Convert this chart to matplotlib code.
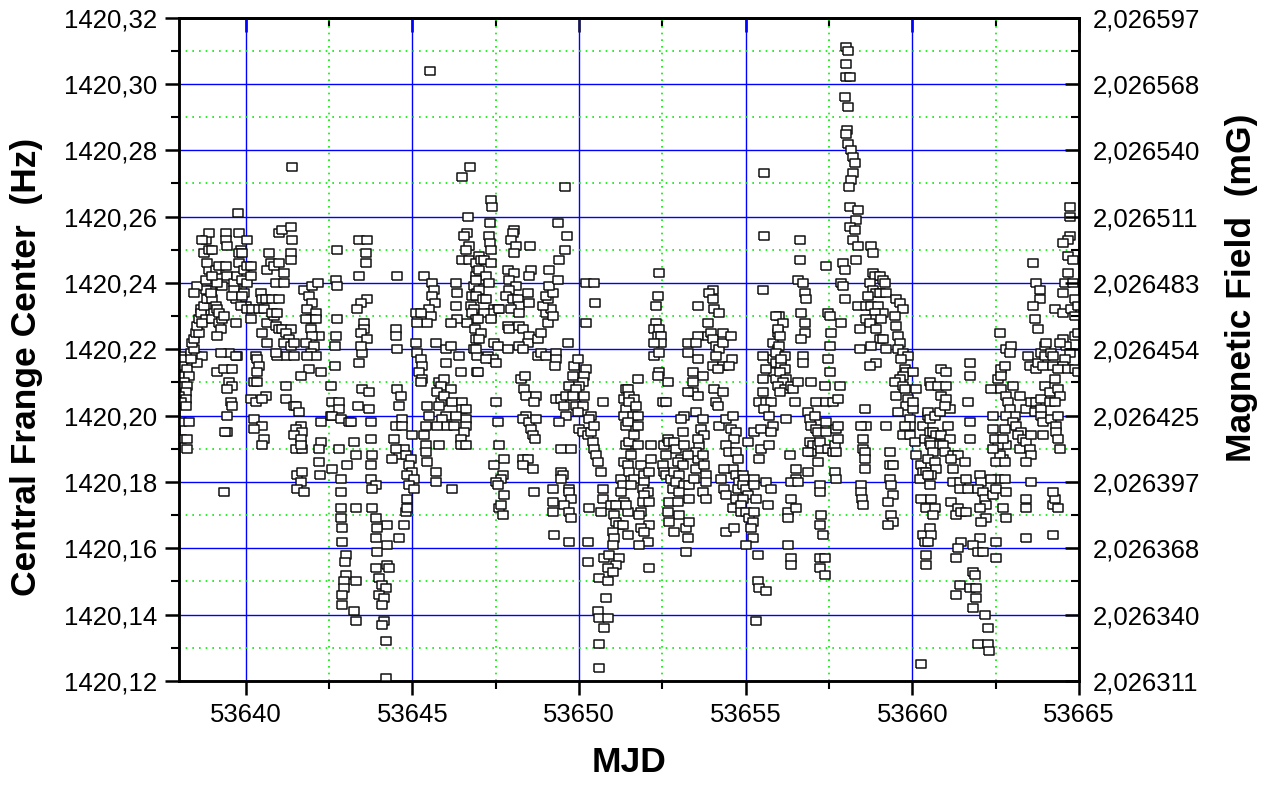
import matplotlib
matplotlib.use('Agg')
import matplotlib.pyplot as plt
from matplotlib.ticker import MultipleLocator, FuncFormatter, FixedLocator

plt.rcParams['font.family'] = ['Liberation Sans', 'DejaVu Sans']

# data, one block per ~4.5 days
mjd_1 = [53638.05, 53638.15, 53638.10, 53638.25, 53638.00, 53638.30, 53638.15, 53638.05, 53638.25, 53638.20,
         53638.00, 53638.20, 53638.05, 53638.20, 53638.05, 53638.30, 53638.05, 53638.25, 53638.25, 53638.40,
         53638.35, 53638.50, 53638.70, 53638.55, 53638.35, 53638.45, 53638.40, 53638.45, 53638.50, 53638.60,
         53638.55, 53638.60, 53638.65, 53638.65, 53638.75, 53638.80, 53638.70, 53638.90, 53638.85, 53639.00,
         53638.95, 53638.80, 53639.10, 53639.05, 53639.15, 53639.00, 53639.20, 53639.30, 53639.25, 53639.15,
         53638.55, 53638.45, 53638.80, 53638.90, 53638.85, 53638.75, 53638.90, 53639.00, 53638.80, 53638.90,
         53638.70, 53639.10, 53639.20, 53639.40, 53639.45, 53639.30, 53639.15, 53639.00, 53638.95, 53639.20,
         53639.35, 53639.40, 53639.40, 53639.45, 53639.70, 53639.65, 53639.75, 53639.65, 53639.70, 53639.60,
         53639.70, 53639.80, 53640.05, 53639.85, 53639.80, 53639.80, 53639.90, 53639.95, 53639.90, 53640.05,
         53640.05, 53640.15, 53640.15, 53639.95, 53639.90, 53640.00, 53639.85, 53640.05, 53640.20, 53640.15,
         53640.45, 53640.50, 53640.40, 53640.55, 53640.65, 53640.85, 53640.80, 53640.90, 53641.00, 53641.10,
         53641.35, 53641.20, 53641.30, 53641.15, 53641.35, 53641.45, 53641.20, 53641.45, 53640.70, 53640.75,
         53640.65, 53640.85, 53641.00, 53640.90, 53641.15, 53641.15, 53641.00, 53641.10, 53641.35, 53641.40,
         53641.35, 53641.35, 53640.60, 53640.80, 53641.00, 53640.95, 53640.50, 53640.65, 53640.95, 53640.90,
         53639.75, 53639.50, 53639.25, 53639.70, 53639.15, 53639.35, 53639.60, 53639.50, 53639.60, 53639.45,
         53639.55, 53639.60, 53639.45, 53639.45, 53639.38, 53640.30, 53640.35, 53640.40, 53640.35, 53640.25,
         53640.35, 53640.15, 53640.30, 53640.60, 53640.50, 53640.25, 53640.50, 53640.25, 53640.55, 53640.50,
         53639.35, 53641.20, 53641.20, 53641.45, 53641.50, 53641.60, 53641.65, 53641.50, 53641.70, 53641.45,
         53641.65, 53641.50, 53641.70, 53641.65, 53641.55, 53641.70, 53641.65, 53641.55, 53641.75, 53641.75,
         53642.00, 53642.18, 53641.90, 53642.00, 53641.85, 53642.10, 53641.95, 53641.80, 53642.10, 53641.95,
         53642.20, 53642.00, 53641.80, 53642.05, 53641.95, 53642.10, 53641.85, 53641.90, 53641.65, 53642.25,
         53642.25, 53642.25, 53642.20, 53642.20, 53642.22, 53641.38, 53639.77, 53642.55, 53642.55]
freq_1 = [1420.218, 1420.217, 1420.215, 1420.214, 1420.212, 1420.212, 1420.210, 1420.209, 1420.209, 1420.207,
          1420.206, 1420.205, 1420.204, 1420.203, 1420.198, 1420.198, 1420.193, 1420.193, 1420.190, 1420.218,
          1420.219, 1420.218, 1420.218, 1420.216, 1420.217, 1420.220, 1420.222, 1420.223, 1420.225, 1420.225,
          1420.227, 1420.229, 1420.232, 1420.231, 1420.233, 1420.229, 1420.228, 1420.235, 1420.235, 1420.235,
          1420.238, 1420.238, 1420.233, 1420.231, 1420.232, 1420.229, 1420.228, 1420.229, 1420.226, 1420.224,
          1420.239, 1420.237, 1420.241, 1420.244, 1420.246, 1420.249, 1420.250, 1420.250, 1420.253, 1420.255,
          1420.253, 1420.244, 1420.245, 1420.245, 1420.242, 1420.239, 1420.240, 1420.242, 1420.237, 1420.231,
          1420.230, 1420.255, 1420.253, 1420.251, 1420.239, 1420.240, 1420.242, 1420.238, 1420.235, 1420.236,
          1420.228, 1420.255, 1420.253, 1420.250, 1420.246, 1420.249, 1420.249, 1420.244, 1420.241, 1420.240,
          1420.245, 1420.245, 1420.242, 1420.237, 1420.236, 1420.233, 1420.233, 1420.232, 1420.232, 1420.229,
          1420.237, 1420.235, 1420.232, 1420.232, 1420.228, 1420.230, 1420.231, 1420.227, 1420.226, 1420.226,
          1420.226, 1420.225, 1420.223, 1420.222, 1420.221, 1420.222, 1420.218, 1420.218, 1420.249, 1420.246,
          1420.244, 1420.245, 1420.246, 1420.240, 1420.243, 1420.240, 1420.255, 1420.256, 1420.257, 1420.253,
          1420.249, 1420.247, 1420.235, 1420.235, 1420.235, 1420.231, 1420.225, 1420.222, 1420.218, 1420.219,
          1420.218, 1420.219, 1420.219, 1420.218, 1420.213, 1420.214, 1420.214, 1420.210, 1420.209, 1420.208,
          1420.204, 1420.203, 1420.200, 1420.195, 1420.195, 1420.218, 1420.217, 1420.215, 1420.213, 1420.210,
          1420.210, 1420.205, 1420.204, 1420.206, 1420.205, 1420.199, 1420.197, 1420.196, 1420.193, 1420.191,
          1420.177, 1420.209, 1420.205, 1420.203, 1420.203, 1420.201, 1420.197, 1420.196, 1420.195, 1420.194,
          1420.193, 1420.190, 1420.190, 1420.191, 1420.182, 1420.183, 1420.180, 1420.178, 1420.177, 1420.238,
          1420.239, 1420.240, 1420.236, 1420.234, 1420.232, 1420.231, 1420.229, 1420.229, 1420.229, 1420.226,
          1420.224, 1420.224, 1420.222, 1420.221, 1420.219, 1420.218, 1420.218, 1420.214, 1420.212, 1420.213,
          1420.198, 1420.192, 1420.190, 1420.186, 1420.182, 1420.275, 1420.261, 1420.209, 1420.200]

mjd_2 = [53645.53, 53646.73, 53646.50, 53646.67, 53646.65, 53646.55, 53646.70, 53646.60, 53646.50, 53646.70,
         53647.00, 53646.95, 53646.90, 53647.00, 53646.85, 53646.95, 53646.80, 53646.75, 53646.85, 53646.80,
         53646.90, 53646.65, 53646.88, 53646.90, 53646.85, 53646.95, 53646.95, 53642.75, 53643.40, 53643.65,
         53643.60, 53643.60, 53642.70, 53642.75, 53643.40, 53644.53, 53645.35, 53645.60, 53645.65, 53645.60,
         53645.68, 53645.50, 53645.55, 53645.45, 53645.10, 53645.25, 53645.15, 53646.30, 53646.35, 53646.30,
         53646.35, 53646.15, 53643.65, 53643.45, 53643.35, 53643.55, 53643.55, 53643.45, 53643.65, 53643.50,
         53643.45, 53642.75, 53642.70, 53642.68, 53642.68, 53643.40, 53644.50, 53644.52, 53644.55, 53645.10,
         53645.15, 53645.25, 53645.30, 53645.20, 53645.30, 53645.25, 53645.70, 53646.00, 53646.15, 53646.00,
         53646.40, 53646.45, 53643.50, 53643.70, 53642.60, 53642.80, 53642.80, 53642.60, 53642.85, 53643.10,
         53643.15, 53643.38, 53643.70, 53643.75, 53644.55, 53644.65, 53644.60, 53644.70, 53644.50, 53644.70,
         53644.45, 53645.00, 53644.75, 53644.60, 53644.40, 53644.50, 53644.80, 53644.95, 53644.90, 53645.00,
         53644.85, 53645.05, 53644.90, 53645.05, 53643.25, 53642.80, 53643.75, 53643.30, 53643.80, 53643.75,
         53642.60, 53643.05, 53642.85, 53642.85, 53643.75, 53643.90, 53643.80, 53642.85, 53642.85, 53643.30,
         53643.80, 53643.90, 53644.25, 53644.75, 53644.85, 53644.80, 53644.85, 53642.90, 53643.95, 53643.90,
         53644.60, 53644.25, 53642.90, 53643.95, 53643.00, 53642.98, 53643.00, 53643.30, 53642.95, 53642.95,
         53642.90, 53642.90, 53643.25, 53643.30, 53643.90, 53644.25, 53644.30, 53644.00, 53644.10, 53644.20,
         53644.00, 53644.15, 53644.10, 53644.15, 53644.10, 53644.20, 53644.20, 53645.45, 53645.50, 53645.40,
         53645.35, 53645.40, 53645.40, 53645.45, 53645.70, 53645.70, 53645.80, 53646.20, 53645.80, 53645.95,
         53645.85, 53645.75, 53646.15, 53645.85, 53645.80, 53645.95, 53646.00, 53646.20, 53646.50, 53645.90,
         53646.05, 53646.25, 53646.50, 53646.60, 53646.60, 53646.55, 53646.45, 53646.45, 53646.60, 53646.60,
         53646.30, 53645.75]
freq_2 = [1420.304, 1420.275, 1420.272, 1420.260, 1420.255, 1420.254, 1420.251, 1420.250, 1420.247, 1420.247,
          1420.248, 1420.244, 1420.242, 1420.241, 1420.239, 1420.237, 1420.236, 1420.233, 1420.232, 1420.231,
          1420.229, 1420.228, 1420.226, 1420.223, 1420.220, 1420.218, 1420.213, 1420.250, 1420.253, 1420.253,
          1420.249, 1420.246, 1420.241, 1420.239, 1420.242, 1420.242, 1420.242, 1420.240, 1420.238, 1420.236,
          1420.234, 1420.232, 1420.230, 1420.228, 1420.231, 1420.231, 1420.228, 1420.240, 1420.237, 1420.233,
          1420.229, 1420.228, 1420.235, 1420.234, 1420.232, 1420.228, 1420.226, 1420.225, 1420.223, 1420.219,
          1420.221, 1420.229, 1420.224, 1420.221, 1420.215, 1420.216, 1420.226, 1420.224, 1420.220, 1420.222,
          1420.219, 1420.217, 1420.215, 1420.213, 1420.211, 1420.210, 1420.222, 1420.220, 1420.221, 1420.216,
          1420.218, 1420.213, 1420.208, 1420.207, 1420.204, 1420.204, 1420.202, 1420.200, 1420.199, 1420.198,
          1420.198, 1420.203, 1420.202, 1420.198, 1420.208, 1420.206, 1420.203, 1420.199, 1420.197, 1420.197,
          1420.193, 1420.194, 1420.190, 1420.188, 1420.187, 1420.190, 1420.188, 1420.187, 1420.185, 1420.183,
          1420.182, 1420.181, 1420.179, 1420.178, 1420.192, 1420.190, 1420.193, 1420.188, 1420.188, 1420.185,
          1420.184, 1420.185, 1420.181, 1420.177, 1420.181, 1420.179, 1420.178, 1420.172, 1420.169, 1420.172,
          1420.172, 1420.169, 1420.167, 1420.167, 1420.175, 1420.171, 1420.172, 1420.166, 1420.166, 1420.163,
          1420.163, 1420.161, 1420.162, 1420.159, 1420.158, 1420.156, 1420.152, 1420.150, 1420.150, 1420.148,
          1420.146, 1420.143, 1420.141, 1420.138, 1420.154, 1420.155, 1420.154, 1420.151, 1420.149, 1420.148,
          1420.146, 1420.145, 1420.143, 1420.138, 1420.137, 1420.132, 1420.121, 1420.203, 1420.200, 1420.197,
          1420.194, 1420.191, 1420.189, 1420.186, 1420.183, 1420.180, 1420.191, 1420.178, 1420.210, 1420.211,
          1420.209, 1420.207, 1420.208, 1420.204, 1420.203, 1420.206, 1420.200, 1420.204, 1420.204, 1420.199,
          1420.197, 1420.197, 1420.202, 1420.199, 1420.197, 1420.195, 1420.193, 1420.191, 1420.191, 1420.202,
          1420.200, 1420.197]

mjd_3 = [53646.91, 53647.06, 53647.16, 53647.36, 53647.01, 53647.21, 53646.91, 53647.31, 53647.01, 53646.91,
         53647.11, 53647.21, 53647.46, 53647.56, 53647.36, 53647.16, 53646.96, 53647.36, 53647.06, 53647.01,
         53646.91, 53647.26, 53647.41, 53647.21, 53647.51, 53646.96, 53647.46, 53647.56, 53647.36, 53647.39,
         53647.33, 53647.29, 53647.33, 53647.36, 53648.06, 53648.03, 53647.96, 53648.11, 53648.06, 53648.54,
         53648.56, 53648.51, 53647.86, 53648.06, 53647.91, 53648.11, 53647.91, 53647.81, 53648.01, 53648.16,
         53648.21, 53647.96, 53648.21, 53648.51, 53648.46, 53647.61, 53647.86, 53647.91, 53648.21, 53648.31,
         53648.51, 53648.46, 53648.21, 53648.31, 53647.86, 53648.76, 53648.86, 53649.01, 53648.76, 53648.86,
         53649.06, 53649.01, 53649.16, 53649.21, 53648.91, 53649.06, 53649.01, 53649.21, 53649.11, 53649.11,
         53649.36, 53649.39, 53649.59, 53649.63, 53649.36, 53649.59, 53649.66, 53649.31, 53649.31, 53649.29,
         53648.26, 53648.39, 53648.36, 53648.41, 53648.71, 53648.66, 53647.51, 53648.41, 53648.31, 53648.51,
         53648.71, 53648.56, 53648.61, 53648.69, 53647.56, 53647.61, 53647.46, 53647.76, 53647.71, 53647.66,
         53647.51, 53647.56, 53647.76, 53647.61, 53647.66, 53647.71, 53648.31, 53648.46, 53648.31, 53648.61,
         53648.66, 53649.31, 53649.46, 53649.61, 53649.56, 53649.61, 53649.41, 53649.71, 53649.81, 53649.86,
         53649.96, 53650.21, 53650.16, 53650.11, 53650.01, 53649.91, 53649.81, 53650.16, 53649.91, 53650.11,
         53649.96, 53650.36, 53650.31, 53650.01, 53650.11, 53650.26, 53650.36, 53650.46, 53650.41, 53650.46,
         53650.51, 53650.56, 53650.66, 53650.21, 53650.46, 53650.48, 53650.21, 53650.71, 53649.46, 53649.76,
         53649.46, 53649.53, 53649.21, 53649.46, 53649.71, 53649.71, 53649.76, 53649.56, 53649.23, 53649.21,
         53649.71, 53649.76, 53649.26, 53649.69, 53650.31, 53650.26, 53650.71, 53650.71, 53650.66, 53651.41,
         53651.36, 53651.41, 53651.36, 53651.41, 53651.36, 53651.26, 53651.31, 53651.26, 53651.36, 53650.96,
         53651.11, 53651.06, 53651.11, 53651.21, 53651.31, 53651.01, 53651.06, 53651.01, 53650.76, 53650.91,
         53651.21, 53651.11, 53650.86, 53651.01, 53650.61, 53650.86, 53650.81, 53650.56, 53650.61, 53650.86,
         53650.76, 53650.59, 53650.61, 53650.26, 53651.46, 53651.56]
freq_3 = [1420.246, 1420.247, 1420.247, 1420.246, 1420.244, 1420.242, 1420.241, 1420.240, 1420.238, 1420.236,
          1420.235, 1420.235, 1420.232, 1420.232, 1420.231, 1420.231, 1420.229, 1420.229, 1420.225, 1420.223,
          1420.220, 1420.218, 1420.217, 1420.217, 1420.216, 1420.213, 1420.222, 1420.221, 1420.265, 1420.263,
          1420.258, 1420.254, 1420.252, 1420.250, 1420.256, 1420.255, 1420.253, 1420.251, 1420.249, 1420.251,
          1420.244, 1420.242, 1420.244, 1420.243, 1420.241, 1420.239, 1420.238, 1420.236, 1420.235, 1420.235,
          1420.233, 1420.232, 1420.231, 1420.234, 1420.237, 1420.232, 1420.227, 1420.226, 1420.227, 1420.226,
          1420.224, 1420.222, 1420.221, 1420.220, 1420.220, 1420.218, 1420.219, 1420.218, 1420.223, 1420.225,
          1420.228, 1420.231, 1420.232, 1420.230, 1420.233, 1420.235, 1420.236, 1420.237, 1420.239, 1420.244,
          1420.241, 1420.247, 1420.250, 1420.254, 1420.258, 1420.269, 1420.222, 1420.219, 1420.217, 1420.215,
          1420.211, 1420.212, 1420.208, 1420.206, 1420.206, 1420.204, 1420.204, 1420.200, 1420.199, 1420.198,
          1420.199, 1420.196, 1420.194, 1420.193, 1420.198, 1420.191, 1420.185, 1420.187, 1420.182, 1420.181,
          1420.180, 1420.179, 1420.176, 1420.172, 1420.173, 1420.170, 1420.187, 1420.187, 1420.185, 1420.184,
          1420.177, 1420.205, 1420.205, 1420.206, 1420.203, 1420.200, 1420.198, 1420.209, 1420.212, 1420.215,
          1420.217, 1420.214, 1420.212, 1420.210, 1420.209, 1420.208, 1420.206, 1420.206, 1420.203, 1420.203,
          1420.201, 1420.200, 1420.199, 1420.196, 1420.195, 1420.194, 1420.195, 1420.197, 1420.192, 1420.190,
          1420.188, 1420.186, 1420.183, 1420.240, 1420.240, 1420.234, 1420.228, 1420.204, 1420.190, 1420.190,
          1420.183, 1420.182, 1420.178, 1420.181, 1420.178, 1420.177, 1420.175, 1420.173, 1420.174, 1420.171,
          1420.171, 1420.169, 1420.164, 1420.162, 1420.172, 1420.162, 1420.178, 1420.175, 1420.171, 1420.208,
          1420.205, 1420.202, 1420.200, 1420.197, 1420.186, 1420.181, 1420.179, 1420.177, 1420.174, 1420.173,
          1420.173, 1420.170, 1420.168, 1420.167, 1420.167, 1420.165, 1420.163, 1420.161, 1420.157, 1420.158,
          1420.157, 1420.155, 1420.154, 1420.153, 1420.151, 1420.150, 1420.145, 1420.141, 1420.139, 1420.139,
          1420.136, 1420.131, 1420.124, 1420.156, 1420.171, 1420.191]

mjd_4 = [53651.46, 53651.51, 53651.66, 53651.51, 53651.71, 53651.61, 53651.76, 53651.46, 53651.76, 53651.41,
         53651.51, 53651.76, 53651.56, 53651.86, 53651.46, 53651.51, 53651.66, 53651.56, 53651.96, 53652.11,
         53652.16, 53652.16, 53651.96, 53651.91, 53652.06, 53651.96, 53651.91, 53652.11, 53651.86, 53651.81,
         53652.11, 53651.86, 53651.96, 53652.06, 53651.81, 53651.41, 53651.46, 53652.11, 53651.76, 53651.66,
         53652.41, 53652.36, 53652.31, 53652.31, 53652.26, 53652.41, 53652.36, 53652.46, 53652.46, 53652.26,
         53652.26, 53652.41, 53652.41, 53652.66, 53652.36, 53652.51, 53652.61, 53652.56, 53652.66, 53652.71,
         53652.61, 53652.51, 53652.56, 53652.61, 53652.76, 53652.81, 53652.71, 53652.66, 53653.01, 53652.71,
         53652.86, 53653.21, 53653.26, 53653.21, 53653.31, 53652.86, 53652.91, 53653.06, 53652.96, 53653.11,
         53652.86, 53653.01, 53652.91, 53653.16, 53653.01, 53652.96, 53653.31, 53653.31, 53653.46, 53653.51,
         53653.56, 53653.61, 53653.51, 53653.71, 53653.76, 53653.81, 53653.81, 53653.71, 53653.81, 53653.16,
         53653.26, 53653.11, 53653.16, 53653.06, 53653.51, 53653.71, 53653.66, 53653.76, 53653.56, 53653.26,
         53653.26, 53653.56, 53653.51, 53653.56, 53653.41, 53653.71, 53653.41, 53653.41, 53653.56, 53653.26,
         53654.06, 53654.31, 53654.11, 53654.16, 53653.56, 53654.01, 53653.91, 53654.01, 53654.06, 53654.21,
         53653.86, 53653.86, 53653.96, 53654.01, 53654.11, 53654.21, 53654.11, 53654.01, 53654.31, 53654.31,
         53654.31, 53654.56, 53654.59, 53654.51, 53654.16, 53654.21, 53654.41, 53654.61, 53654.56, 53654.71,
         53654.66, 53654.41, 53654.51, 53654.71, 53654.76, 53654.61, 53654.36, 53654.26, 53654.36, 53654.41,
         53654.71, 53654.81, 53654.76, 53654.71, 53654.61, 53654.91, 53654.96, 53654.91, 53655.01, 53655.06,
         53654.91, 53654.86, 53654.86, 53655.01, 53655.11, 53655.21, 53655.16, 53655.21, 53655.01, 53655.26,
         53655.26, 53655.31, 53655.26, 53655.36, 53655.36, 53655.41, 53655.61, 53655.31, 53654.41, 53654.66,
         53655.06, 53655.26, 53655.46, 53655.41, 53655.46, 53655.71, 53655.61, 53655.76, 53655.66, 53655.56,
         53655.56, 53655.51, 53656.01, 53655.96, 53655.81, 53655.96, 53655.81, 53655.91, 53656.06, 53655.86,
         53655.91, 53655.51, 53655.61, 53655.51, 53655.51, 53655.41, 53655.61, 53655.76, 53655.56, 53655.71,
         53655.81, 53655.76, 53656.01]
freq_4 = [1420.208, 1420.206, 1420.205, 1420.204, 1420.203, 1420.200, 1420.200, 1420.198, 1420.197, 1420.191,
          1420.192, 1420.191, 1420.188, 1420.185, 1420.185, 1420.183, 1420.181, 1420.179, 1420.182, 1420.183,
          1420.187, 1420.191, 1420.180, 1420.178, 1420.177, 1420.176, 1420.174, 1420.174, 1420.171, 1420.170,
          1420.167, 1420.166, 1420.165, 1420.162, 1420.161, 1420.173, 1420.164, 1420.154, 1420.211, 1420.194,
          1420.243, 1420.236, 1420.233, 1420.228, 1420.226, 1420.226, 1420.224, 1420.224, 1420.222, 1420.222,
          1420.218, 1420.219, 1420.213, 1420.210, 1420.212, 1420.204, 1420.204, 1420.191, 1420.193, 1420.192,
          1420.188, 1420.185, 1420.183, 1420.182, 1420.181, 1420.178, 1420.174, 1420.171, 1420.170, 1420.168,
          1420.165, 1420.166, 1420.163, 1420.159, 1420.168, 1420.192, 1420.190, 1420.187, 1420.186, 1420.185,
          1420.183, 1420.182, 1420.180, 1420.179, 1420.177, 1420.174, 1420.179, 1420.175, 1420.181, 1420.184,
          1420.187, 1420.191, 1420.189, 1420.188, 1420.185, 1420.182, 1420.180, 1420.177, 1420.175, 1420.191,
          1420.188, 1420.195, 1420.200, 1420.199, 1420.201, 1420.199, 1420.196, 1420.194, 1420.193, 1420.222,
          1420.219, 1420.224, 1420.222, 1420.217, 1420.213, 1420.212, 1420.210, 1420.207, 1420.206, 1420.207,
          1420.208, 1420.207, 1420.204, 1420.203, 1420.233, 1420.238, 1420.237, 1420.235, 1420.232, 1420.231,
          1420.228, 1420.224, 1420.225, 1420.223, 1420.221, 1420.220, 1420.218, 1420.215, 1420.215, 1420.225,
          1420.222, 1420.224, 1420.217, 1420.215, 1420.214, 1420.197, 1420.199, 1420.200, 1420.196, 1420.195,
          1420.193, 1420.191, 1420.189, 1420.189, 1420.187, 1420.184, 1420.184, 1420.181, 1420.178, 1420.176,
          1420.182, 1420.180, 1420.178, 1420.175, 1420.172, 1420.182, 1420.181, 1420.179, 1420.178, 1420.176,
          1420.175, 1420.173, 1420.171, 1420.171, 1420.169, 1420.168, 1420.166, 1420.163, 1420.161, 1420.181,
          1420.179, 1420.175, 1420.171, 1420.158, 1420.150, 1420.148, 1420.147, 1420.138, 1420.165, 1420.166,
          1420.192, 1420.195, 1420.190, 1420.187, 1420.196, 1420.191, 1420.180, 1420.178, 1420.173, 1420.273,
          1420.254, 1420.238, 1420.230, 1420.225, 1420.222, 1420.220, 1420.217, 1420.216, 1420.215, 1420.213,
          1420.211, 1420.218, 1420.214, 1420.211, 1420.207, 1420.204, 1420.204, 1420.204, 1420.202, 1420.200,
          1420.197, 1420.195, 1420.221]

mjd_5 = [53655.92, 53656.12, 53655.97, 53656.02, 53655.92, 53656.17, 53656.07, 53656.17, 53656.02, 53656.22,
         53656.12, 53655.97, 53656.17, 53656.37, 53656.02, 53656.42, 53656.57, 53656.47, 53656.22, 53656.62,
         53656.64, 53656.57, 53656.72, 53656.77, 53656.82, 53656.67, 53656.77, 53656.77, 53656.67, 53656.72,
         53656.72, 53656.97, 53657.12, 53656.87, 53656.92, 53656.97, 53657.07, 53657.12, 53657.17, 53656.92,
         53657.02, 53656.97, 53657.17, 53656.87, 53657.17, 53657.27, 53657.22, 53656.87, 53656.52, 53656.52,
         53656.37, 53656.57, 53656.32, 53656.37, 53656.27, 53656.52, 53656.27, 53656.27, 53656.37, 53656.37,
         53657.22, 53657.22, 53657.27, 53657.22, 53657.32, 53657.22, 53657.37, 53657.22, 53657.37, 53657.40,
         53657.47, 53657.52, 53657.57, 53657.87, 53657.52, 53657.47, 53657.52, 53657.37, 53657.42, 53657.62,
         53657.77, 53657.82, 53657.42, 53657.42, 53657.47, 53657.62, 53657.67, 53657.72, 53657.77, 53657.72,
         53657.77, 53657.67, 53657.72, 53657.92, 53657.97, 53657.87, 53657.92, 53657.97, 53658.02, 53658.07,
         53658.02, 53658.02, 53658.14, 53657.97, 53658.07, 53658.04, 53658.02, 53658.07, 53658.17, 53658.22,
         53658.27, 53658.22, 53658.17, 53658.10, 53658.12, 53658.37, 53658.32, 53658.12, 53658.27, 53658.22,
         53658.37, 53658.32, 53658.37, 53658.42, 53658.42, 53658.77, 53658.82, 53658.82, 53658.87, 53659.02,
         53659.12, 53659.17, 53658.72, 53658.82, 53658.92, 53659.02, 53659.22, 53658.67, 53658.62, 53658.77,
         53658.97, 53659.12, 53658.87, 53658.82, 53658.62, 53658.72, 53659.07, 53658.92, 53659.02, 53659.12,
         53658.77, 53658.92, 53658.72, 53659.22, 53659.52, 53659.62, 53659.72, 53659.47, 53659.52, 53659.57,
         53659.62, 53659.57, 53659.72, 53659.87, 53659.67, 53659.77, 53659.82, 53660.02, 53659.72, 53659.62,
         53659.47, 53659.52, 53659.72, 53659.77, 53659.87, 53659.82, 53659.57, 53660.02, 53660.12, 53660.02,
         53659.92, 53659.92, 53659.77, 53659.72, 53659.92, 53660.07, 53660.12, 53660.27, 53660.32, 53660.42,
         53660.22, 53660.27, 53660.42, 53660.32, 53660.37, 53660.42, 53660.27, 53660.32, 53660.37, 53660.47,
         53660.52, 53660.52, 53658.57, 53658.62, 53658.47, 53658.52, 53658.52, 53658.57, 53658.57, 53659.22,
         53659.32, 53659.32, 53659.42, 53659.32, 53659.37, 53659.42, 53659.27, 53659.37, 53659.42, 53659.27,
         53658.57, 53658.47, 53658.47, 53658.50, 53658.52]
freq_5 = [1420.230, 1420.228, 1420.226, 1420.224, 1420.219, 1420.218, 1420.217, 1420.214, 1420.213, 1420.211,
          1420.210, 1420.209, 1420.208, 1420.209, 1420.207, 1420.208, 1420.210, 1420.204, 1420.199, 1420.253,
          1420.247, 1420.241, 1420.240, 1420.237, 1420.235, 1420.231, 1420.228, 1420.225, 1420.223, 1420.218,
          1420.216, 1420.210, 1420.204, 1420.201, 1420.199, 1420.197, 1420.200, 1420.196, 1420.195, 1420.192,
          1420.191, 1420.189, 1420.191, 1420.189, 1420.186, 1420.190, 1420.192, 1420.183, 1420.184, 1420.181,
          1420.180, 1420.180, 1420.188, 1420.175, 1420.171, 1420.172, 1420.169, 1420.161, 1420.157, 1420.155,
          1420.179, 1420.177, 1420.170, 1420.167, 1420.164, 1420.157, 1420.157, 1420.154, 1420.152, 1420.245,
          1420.231, 1420.230, 1420.225, 1420.228, 1420.221, 1420.217, 1420.213, 1420.209, 1420.204, 1420.204,
          1420.205, 1420.209, 1420.198, 1420.195, 1420.190, 1420.189, 1420.191, 1420.189, 1420.193, 1420.196,
          1420.197, 1420.183, 1420.181, 1420.246, 1420.244, 1420.240, 1420.239, 1420.235, 1420.311, 1420.310,
          1420.306, 1420.302, 1420.302, 1420.296, 1420.293, 1420.286, 1420.285, 1420.282, 1420.280, 1420.278,
          1420.276, 1420.273, 1420.271, 1420.269, 1420.263, 1420.262, 1420.259, 1420.257, 1420.256, 1420.253,
          1420.251, 1420.247, 1420.233, 1420.226, 1420.220, 1420.251, 1420.249, 1420.243, 1420.242, 1420.242,
          1420.241, 1420.240, 1420.240, 1420.238, 1420.237, 1420.237, 1420.237, 1420.236, 1420.233, 1420.233,
          1420.233, 1420.231, 1420.231, 1420.229, 1420.229, 1420.228, 1420.229, 1420.226, 1420.223, 1420.223,
          1420.221, 1420.216, 1420.215, 1420.220, 1420.235, 1420.234, 1420.232, 1420.230, 1420.227, 1420.224,
          1420.222, 1420.220, 1420.219, 1420.218, 1420.217, 1420.214, 1420.213, 1420.213, 1420.212, 1420.211,
          1420.210, 1420.206, 1420.209, 1420.208, 1420.205, 1420.203, 1420.201, 1420.202, 1420.208, 1420.204,
          1420.199, 1420.197, 1420.197, 1420.194, 1420.194, 1420.192, 1420.188, 1420.185, 1420.183, 1420.183,
          1420.181, 1420.175, 1420.172, 1420.164, 1420.162, 1420.155, 1420.125, 1420.197, 1420.193, 1420.200,
          1420.210, 1420.195, 1420.202, 1420.197, 1420.197, 1420.193, 1420.190, 1420.189, 1420.187, 1420.197,
          1420.189, 1420.185, 1420.185, 1420.181, 1420.179, 1420.176, 1420.174, 1420.170, 1420.168, 1420.167,
          1420.184, 1420.179, 1420.177, 1420.175, 1420.173]

mjd_6 = [53660.47, 53660.52, 53660.67, 53660.62, 53660.72, 53660.52, 53660.57, 53660.82, 53660.62, 53660.47,
         53660.67, 53660.72, 53660.57, 53660.47, 53660.52, 53660.57, 53660.67, 53660.62, 53660.52, 53660.57,
         53660.47, 53660.42, 53660.57, 53660.77, 53661.02, 53660.87, 53661.02, 53661.12, 53660.82, 53660.97,
         53661.07, 53660.87, 53661.12, 53660.92, 53660.97, 53661.22, 53661.37, 53661.17, 53661.57, 53661.22,
         53661.22, 53661.42, 53661.42, 53661.62, 53661.67, 53661.17, 53661.37, 53661.32, 53661.47, 53661.62,
         53660.87, 53661.02, 53661.67, 53661.47, 53661.37, 53661.30, 53661.42, 53661.32, 53661.72, 53661.72,
         53661.72, 53661.72, 53662.02, 53662.07, 53661.97, 53662.12, 53662.17, 53662.22, 53662.02, 53662.22,
         53662.07, 53662.02, 53661.82, 53661.97, 53662.12, 53661.82, 53661.87, 53661.72, 53661.92, 53661.92,
         53661.82, 53662.17, 53662.27, 53661.97, 53662.27, 53662.29, 53662.52, 53662.52, 53662.42, 53662.52,
         53662.57, 53662.77, 53662.82, 53662.72, 53662.82, 53662.37, 53662.42, 53662.37, 53662.57, 53662.67,
         53662.67, 53662.77, 53662.82, 53662.97, 53662.92, 53662.62, 53662.67, 53662.82, 53662.87, 53663.02,
         53662.92, 53663.07, 53662.82, 53663.02, 53663.12, 53663.27, 53663.17, 53663.32, 53663.22, 53663.42,
         53663.57, 53663.52, 53663.57, 53663.42, 53662.82, 53662.72, 53662.62, 53662.52, 53662.77, 53662.57,
         53662.47, 53662.42, 53662.72, 53662.77, 53662.42, 53663.22, 53663.42, 53663.57, 53663.67, 53663.72,
         53663.87, 53663.87, 53663.87, 53664.12, 53663.92, 53664.17, 53663.92, 53663.42, 53663.42, 53663.57,
         53663.42, 53664.22, 53664.27, 53664.22, 53664.37, 53664.22, 53663.62, 53663.72, 53663.82, 53663.82,
         53663.62, 53663.67, 53663.77, 53663.47, 53663.52, 53663.72, 53663.77, 53663.87, 53663.97, 53663.97,
         53663.92, 53663.97, 53664.12, 53664.02, 53664.17, 53664.22, 53664.22, 53664.27, 53664.37, 53664.42,
         53664.27, 53664.37, 53664.32, 53664.32, 53664.37, 53664.42, 53664.74, 53664.74, 53664.72, 53664.67,
         53664.52, 53664.67, 53664.82, 53664.67, 53664.57, 53664.82, 53664.52, 53664.87, 53664.27, 53664.52,
         53664.77, 53664.97, 53664.87, 53664.52, 53664.62, 53664.42, 53664.87, 53664.97, 53664.72, 53664.57,
         53664.52, 53664.37, 53664.67, 53664.87, 53664.97]
freq_6 = [1420.201, 1420.199, 1420.200, 1420.195, 1420.194, 1420.192, 1420.191, 1420.191, 1420.189, 1420.187,
          1420.186, 1420.184, 1420.182, 1420.182, 1420.179, 1420.175, 1420.172, 1420.170, 1420.166, 1420.164,
          1420.162, 1420.158, 1420.209, 1420.209, 1420.209, 1420.206, 1420.205, 1420.202, 1420.201, 1420.203,
          1420.197, 1420.194, 1420.193, 1420.191, 1420.189, 1420.188, 1420.188, 1420.187, 1420.186, 1420.184,
          1420.180, 1420.180, 1420.178, 1420.181, 1420.178, 1420.174, 1420.172, 1420.170, 1420.171, 1420.171,
          1420.214, 1420.213, 1420.204, 1420.162, 1420.160, 1420.157, 1420.149, 1420.146, 1420.216, 1420.212,
          1420.198, 1420.193, 1420.182, 1420.180, 1420.178, 1420.177, 1420.175, 1420.173, 1420.172, 1420.169,
          1420.168, 1420.163, 1420.161, 1420.159, 1420.159, 1420.153, 1420.152, 1420.148, 1420.148, 1420.145,
          1420.142, 1420.140, 1420.136, 1420.131, 1420.131, 1420.129, 1420.157, 1420.162, 1420.176, 1420.178,
          1420.181, 1420.181, 1420.169, 1420.172, 1420.177, 1420.181, 1420.200, 1420.208, 1420.211, 1420.214,
          1420.212, 1420.215, 1420.220, 1420.221, 1420.219, 1420.225, 1420.208, 1420.206, 1420.204, 1420.209,
          1420.202, 1420.200, 1420.200, 1420.198, 1420.197, 1420.195, 1420.194, 1420.193, 1420.190, 1420.192,
          1420.194, 1420.190, 1420.188, 1420.186, 1420.191, 1420.187, 1420.188, 1420.186, 1420.186, 1420.191,
          1420.193, 1420.190, 1420.193, 1420.196, 1420.196, 1420.206, 1420.202, 1420.204, 1420.201, 1420.204,
          1420.205, 1420.202, 1420.200, 1420.204, 1420.198, 1420.199, 1420.194, 1420.175, 1420.172, 1420.180,
          1420.163, 1420.173, 1420.175, 1420.177, 1420.172, 1420.164, 1420.246, 1420.240, 1420.238, 1420.235,
          1420.233, 1420.229, 1420.226, 1420.218, 1420.215, 1420.214, 1420.216, 1420.219, 1420.221, 1420.218,
          1420.215, 1420.209, 1420.207, 1420.222, 1420.219, 1420.218, 1420.215, 1420.211, 1420.208, 1420.206,
          1420.204, 1420.200, 1420.197, 1420.195, 1420.193, 1420.190, 1420.263, 1420.260, 1420.254, 1420.253,
          1420.252, 1420.248, 1420.247, 1420.243, 1420.240, 1420.240, 1420.237, 1420.235, 1420.232, 1420.231,
          1420.232, 1420.233, 1420.230, 1420.223, 1420.221, 1420.222, 1420.224, 1420.225, 1420.219, 1420.217,
          1420.215, 1420.214, 1420.214, 1420.214, 1420.213]

field_labels = ['2,026311', '2,026340', '2,026368', '2,026397', '2,026425', '2,026454',
                '2,026483', '2,026511', '2,026540', '2,026568', '2,026597']

mjd = mjd_1 + mjd_2 + mjd_3 + mjd_4 + mjd_5 + mjd_6
freq = freq_1 + freq_2 + freq_3 + freq_4 + freq_5 + freq_6

fig = plt.figure(figsize=(12.73, 7.85), dpi=100)
ax = fig.add_axes([0.1406, 0.1325, 0.7070, 0.8452])

# slightly wide open squares like the original export
box = [(-1, -0.78), (1, -0.78), (1, 0.78), (-1, 0.78), (-1, -0.78)]
ax.plot(mjd, freq, linestyle='none', marker=box, markersize=7.0,
        markerfacecolor='white', markeredgecolor='#111111', markeredgewidth=1.1,
        zorder=3, clip_on=True)

ax.set_xlim(53638, 53665)
ax.set_ylim(1420.12, 1420.32)
ax.xaxis.set_major_locator(MultipleLocator(5))
ax.xaxis.set_minor_locator(MultipleLocator(2.5))
ax.yaxis.set_major_locator(MultipleLocator(0.02))
ax.yaxis.set_minor_locator(MultipleLocator(0.01))
ax.yaxis.set_major_formatter(FuncFormatter(lambda v, p: ('%.2f' % v).replace('.', ',')))

ax.set_axisbelow(True)
ax.grid(which='major', color='#0000ff', linestyle='-', linewidth=1.0)
ax.grid(which='minor', color='#00ee00', linestyle=(0, (1, 3)), linewidth=1.2)

for s in ax.spines.values():
    s.set_linewidth(1.8)

ax.tick_params(which='major', direction='out', length=10, width=1.8, labelsize=18.5, pad=6)
ax.tick_params(which='minor', direction='out', length=6, width=1.5)

# top axis: inward ticks, no labels
top = ax.secondary_xaxis('top')
top.xaxis.set_major_locator(MultipleLocator(5))
top.xaxis.set_minor_locator(MultipleLocator(2.5))
top.tick_params(which='major', direction='in', length=10, width=1.8, labeltop=False)
top.tick_params(which='minor', direction='in', length=6, width=1.5)
top.spines['top'].set_linewidth(1.8)

# right axis: magnetic field labels at the same heights
rax = ax.twinx()
rax.set_ylim(ax.get_ylim())
rax.yaxis.set_major_locator(FixedLocator([1420.12 + 0.02 * i for i in range(11)]))
rax.yaxis.set_minor_locator(MultipleLocator(0.01))
rax.set_yticklabels(field_labels)
rax.tick_params(which='major', direction='in', length=10, width=1.8, labelsize=18.5, pad=10)
rax.tick_params(which='minor', direction='in', length=6, width=1.5)
for s in rax.spines.values():
    s.set_linewidth(1.8)

ax.set_xlabel('MJD', fontsize=25.5, fontweight='bold')
ax.set_ylabel('Central Frange Center  (Hz)', fontsize=25.5, fontweight='bold')
rax.set_ylabel('Magnetic Field  (mG)', fontsize=25.5, fontweight='bold')
ax.xaxis.set_label_coords(0.5, -0.098)
ax.yaxis.set_label_coords(-0.151, 0.473)
rax.yaxis.set_label_coords(1.162, 0.592)

fig.savefig('out.png', dpi=100)
